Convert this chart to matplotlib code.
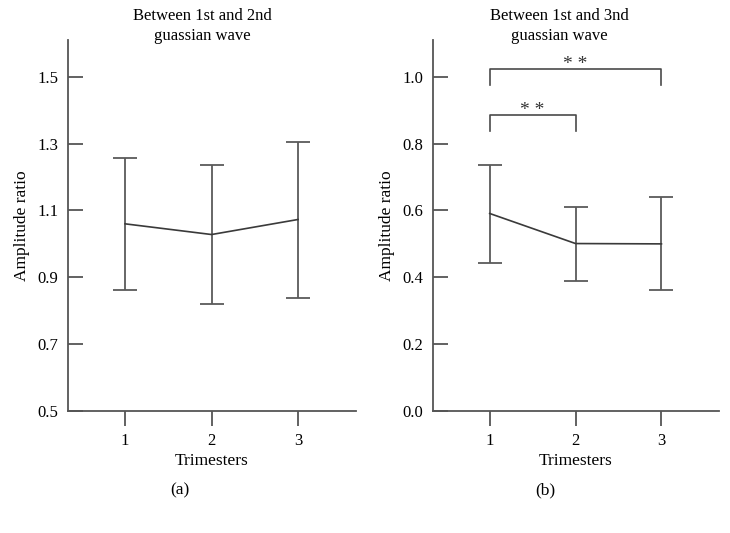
import matplotlib
matplotlib.use("Agg")
import matplotlib.pyplot as plt

trimesters = [1, 2, 3]

# panel (a): between 1st and 2nd gaussian wave
ratio_a = [1.060, 1.028, 1.073]
upper_a = [1.257, 1.237, 1.306]
lower_a = [0.863, 0.820, 0.839]

# panel (b): between 1st and 3rd gaussian wave
ratio_b = [0.591, 0.501, 0.500]
upper_b = [0.736, 0.610, 0.639]
lower_b = [0.443, 0.389, 0.363]

# significance brackets for panel (b): (start, end, top, leg bottom, label)
brackets_b = [(1, 3, 1.024, 0.976, "* *"), (1, 2, 0.887, 0.837, "* *")]

plt.rcParams["font.family"] = ["Liberation Serif", "DejaVu Serif"]
LINE = "#3a3a3a"
AXIS = "#555555"

fig = plt.figure(figsize=(7.3, 5.33), dpi=100)
W, H = 730, 533


def axes_px(x0, x1, y_top, y_bot):
    return fig.add_axes([x0 / W, 1 - y_bot / H, (x1 - x0) / W, (y_bot - y_top) / H])


def draw_panel(ax, mean, upper, lower, ylim, yticks, ytick_fmt):
    yerr = [[m - l for m, l in zip(mean, lower)], [u - m for m, u in zip(mean, upper)]]
    ax.errorbar(trimesters, mean, yerr=yerr, color=LINE, ecolor="#5a5a5a",
                elinewidth=1.3, capsize=8.3, capthick=1.3, linewidth=1.2)
    ax.set_xlim(0.34, 3.67)
    ax.set_ylim(*ylim)
    ax.set_xticks(trimesters)
    ax.set_yticks(yticks)
    ax.set_yticklabels([ytick_fmt.format(v) for v in yticks])
    ax.spines["top"].set_visible(False)
    ax.spines["right"].set_visible(False)
    for s in ("left", "bottom"):
        ax.spines[s].set_color(AXIS)
        ax.spines[s].set_linewidth(1.3)
    ax.tick_params(axis="y", direction="in", length=10.5, width=1.3, color=AXIS,
                   labelsize=12, pad=7)
    ax.tick_params(axis="x", direction="out", length=10.5, width=1.3, color=AXIS,
                   labelsize=12, pad=5)
    ax.set_xlabel("Trimesters", fontsize=12.5, labelpad=3)
    ax.set_ylabel("Amplitude ratio", fontsize=12.5, labelpad=5)


ax_a = axes_px(68, 356, 40, 411)
draw_panel(ax_a, ratio_a, upper_a, lower_a, (0.5, 1.61),
           [0.5, 0.7, 0.9, 1.1, 1.3, 1.5], "{:.1f}")
ax_b = axes_px(433, 719, 40, 411)
draw_panel(ax_b, ratio_b, upper_b, lower_b, (0.0, 1.11),
           [0.0, 0.2, 0.4, 0.6, 0.8, 1.0], "{:.1f}")

for x0, x1, top, bot, label in brackets_b:
    ax_b.plot([x0, x0, x1, x1], [bot, top, top, bot], color="#4a4a4a", linewidth=1.2)
    ax_b.text((x0 + x1) / 2, top, label, ha="center", va="baseline",
              fontsize=14, color="#333333")

fig.text(202 / W, 1 - 26 / H, "Between 1st and 2nd\nguassian wave", ha="center",
         va="center", fontsize=12, linespacing=1.4)
fig.text(559 / W, 1 - 26 / H, "Between 1st and 3nd\nguassian wave", ha="center",
         va="center", fontsize=12, linespacing=1.4)
fig.text(180 / W, 1 - 490 / H, "(a)", ha="center", va="center", fontsize=12.5)
fig.text(545 / W, 1 - 490 / H, "(b)", ha="center", va="center", fontsize=12.5)

fig.savefig("out.png", dpi=100)
